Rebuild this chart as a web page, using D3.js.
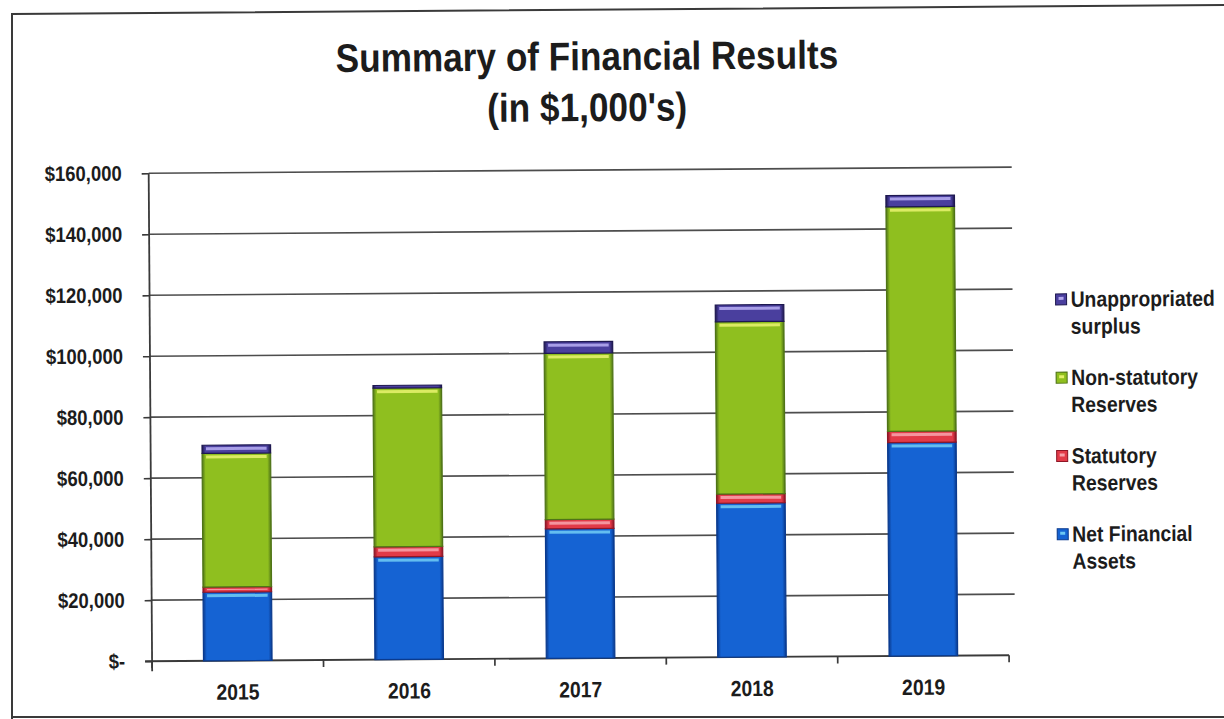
<!DOCTYPE html>
<html>
<head>
<meta charset="utf-8">
<script src="https://cdn.jsdelivr.net/npm/d3@7"></script>
<style>
  html, body { margin: 0; padding: 0; background: #fff; }
  svg { display: block; }
  text { font-family: "Liberation Sans", Arial, sans-serif; font-weight: bold; fill: #1c1c1c; }
</style>
</head>
<body>
<svg id="chart" width="1224" height="719"></svg>
<script>
// Summary of financial results, values in $1,000's
const years = ["2015", "2016", "2017", "2018", "2019"];
const netFinancialAssets    = [22500, 33700, 42500, 50500, 70000];
const statutoryReserves     = [1700, 3300, 3000, 3000, 3700];
const nonStatutoryReserves  = [43800, 52000, 54500, 56500, 73600];
const unappropriatedSurplus = [2700, 900, 3800, 5500, 3700];
const yTicks = [0, 20000, 40000, 60000, 80000, 100000, 120000, 140000, 160000];

const seriesDefs = [
  { key: "net",  name: ["Net Financial", "Assets"],  values: netFinancialAssets,
    base: "#1563d3", dark: "#0a3a8e", hi: "#6cc7f3" },
  { key: "stat", name: ["Statutory", "Reserves"],    values: statutoryReserves,
    base: "#e23a48", dark: "#8e1626", hi: "#f6a0a8" },
  { key: "non",  name: ["Non-statutory", "Reserves"], values: nonStatutoryReserves,
    base: "#8fbf1f", dark: "#4f7417", hi: "#e3f06a" },
  { key: "unap", name: ["Unappropriated", "surplus"], values: unappropriatedSurplus,
    base: "#4a3f9e", dark: "#1e1850", hi: "#b3a8ee" }
];

const rows = years.map((yr, i) => {
  const r = { year: yr };
  seriesDefs.forEach(s => r[s.key] = s.values[i]);
  return r;
});

// condensed bold lettering
const SX = 0.88;
function label(parent, x, y, str, size, anchor) {
  return parent.append("text")
    .attr("transform", `translate(${x},${y}) scale(${SX},1)`)
    .attr("text-anchor", anchor || "start")
    .style("font-size", size + "px")
    .text(str);
}

const svg = d3.select("#chart");
const defs = svg.append("defs");

// Frame of the sheet
svg.append("path")
  .attr("d", "M 12 719 L 12 14 L 1224 5")
  .attr("fill", "none").attr("stroke", "#3a3a3a").attr("stroke-width", 2);
svg.append("line").attr("x1", 12).attr("x2", 1224).attr("y1", 717).attr("y2", 717)
  .attr("stroke", "#3a3a3a").attr("stroke-width", 2);

// Slight tilt of the chart contents
const root = svg.append("g").attr("transform", "rotate(-0.4 612 360)");

// Title
label(root, 589, 70, "Summary of Financial Results", 40, "middle");
label(root, 589, 121, "(in $1,000's)", 40, "middle");

const plotLeft = 150, plotRight = 1007, plotTop = 170, plotBottom = 658;

const x = d3.scaleBand().domain(years).range([plotLeft, plotRight]).paddingInner(0.6).paddingOuter(0.3);
const y = d3.scaleLinear().domain([0, 160000]).range([plotBottom, plotTop]);

// Gridlines
root.append("g").selectAll("line").data(yTicks.filter(t => t > 0)).join("line")
  .attr("x1", plotLeft).attr("x2", plotRight + 6)
  .attr("y1", d => y(d)).attr("y2", d => y(d))
  .attr("stroke", "#4d4d4d").attr("stroke-width", 1.7);

// Y axis
const fmt = d => d === 0 ? "$-" : "$" + d3.format(",")(d);
const tickSize = 7, tickPad = 20;
const yAxis = root.append("g").attr("transform", `translate(${plotLeft},0)`)
  .call(d3.axisLeft(y).tickValues(yTicks).tickFormat(fmt).tickSize(tickSize).tickPadding(tickPad));
yAxis.attr("font-family", null).attr("font-size", null);
yAxis.select(".domain").attr("stroke", "#3a3a3a").attr("stroke-width", 1.8)
  .attr("d", `M0,${plotTop}V${plotBottom + 10}`);
yAxis.selectAll(".tick line").attr("stroke", "#3a3a3a").attr("stroke-width", 1.7);
yAxis.selectAll(".tick text")
  .style("font-size", "21px").attr("fill", "#1c1c1c")
  .attr("x", -(tickSize + tickPad) / SX)
  .attr("transform", `scale(${SX},1)`);

// X axis: line with ticks at category boundaries
const bounds = d3.range(years.length + 1).map(i => plotLeft + i * (plotRight - plotLeft) / years.length);
root.append("line").attr("x1", plotLeft - 7).attr("x2", plotRight)
  .attr("y1", plotBottom).attr("y2", plotBottom)
  .attr("stroke", "#3a3a3a").attr("stroke-width", 1.8);
root.append("g").selectAll("line").data(bounds).join("line")
  .attr("x1", d => d).attr("x2", d => d)
  .attr("y1", plotBottom).attr("y2", plotBottom + 7)
  .attr("stroke", "#3a3a3a").attr("stroke-width", 1.7);
const xLab = root.append("g");
years.forEach(yr => label(xLab, x(yr) + x.bandwidth() / 2, plotBottom + 39, yr, 22, "middle"));

// Gradients for the bevelled bar look
seriesDefs.forEach(s => {
  const g = defs.append("linearGradient").attr("id", "grad-" + s.key)
    .attr("x1", 0).attr("x2", 1).attr("y1", 0).attr("y2", 0);
  g.append("stop").attr("offset", "0%").attr("stop-color", s.dark);
  g.append("stop").attr("offset", "5%").attr("stop-color", s.base);
  g.append("stop").attr("offset", "95%").attr("stop-color", s.base);
  g.append("stop").attr("offset", "100%").attr("stop-color", s.dark);
});

// Stacked bars
const stack = d3.stack().keys(seriesDefs.map(s => s.key));
const layers = stack(rows);
const barG = root.append("g");
layers.forEach((layer, li) => {
  const s = seriesDefs[li];
  const g = barG.append("g");
  g.selectAll("rect.seg").data(layer).join("rect").attr("class", "seg")
    .attr("x", d => x(d.data.year))
    .attr("width", x.bandwidth())
    .attr("y", d => y(d[1]))
    .attr("height", d => y(d[0]) - y(d[1]))
    .attr("fill", `url(#grad-${s.key})`)
    .attr("stroke", s.dark).attr("stroke-width", 1.2);
  // light highlight along the top of each segment
  g.selectAll("rect.hi").data(layer).join("rect").attr("class", "hi")
    .attr("x", d => x(d.data.year) + 4)
    .attr("width", x.bandwidth() - 8)
    .attr("y", d => y(d[1]) + 2)
    .attr("height", d => Math.min(3, Math.max(0, y(d[0]) - y(d[1]) - 4)))
    .attr("fill", s.hi).attr("opacity", 0.9);
});

// Legend (top entry is the top segment)
const legend = root.append("g");
const legendOrder = seriesDefs.slice().reverse();
const lx = 1056, ly0 = 310, lgap = 78.3;
legendOrder.forEach((s, i) => {
  const base = ly0 + i * lgap;
  legend.append("rect").attr("x", lx).attr("y", base - 13).attr("width", 11).attr("height", 11)
    .attr("fill", `url(#grad-${s.key})`).attr("stroke", s.dark).attr("stroke-width", 1);
  legend.append("rect").attr("x", lx + 3).attr("y", base - 10).attr("width", 5).attr("height", 3)
    .attr("fill", s.hi);
  label(legend, lx + 15, base, s.name[0], 22);
  label(legend, lx + 15, base + 27, s.name[1], 22);
});
</script>
</body>
</html>
